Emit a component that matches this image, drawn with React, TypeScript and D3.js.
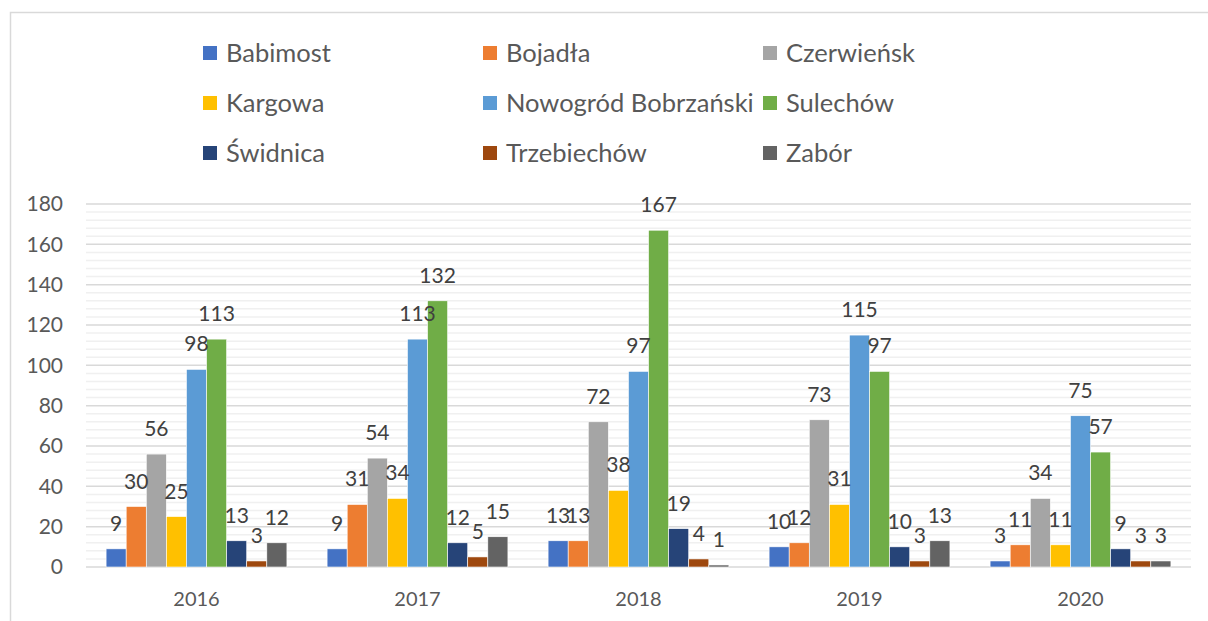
import React from "react";
import * as d3 from "d3";

const years = ["2016", "2017", "2018", "2019", "2020"];
const seriesNames = [
  "Babimost",
  "Bojadła",
  "Czerwieńsk",
  "Kargowa",
  "Nowogród Bobrzański",
  "Sulechów",
  "Świdnica",
  "Trzebiechów",
  "Zabór",
];
const babimost = [9, 9, 13, 10, 3];
const bojadla = [30, 31, 13, 12, 11];
const czerwiensk = [56, 54, 72, 73, 34];
const kargowa = [25, 34, 38, 31, 11];
const nowogrod = [98, 113, 97, 115, 75];
const sulechow = [113, 132, 167, 97, 57];
const swidnica = [13, 12, 19, 10, 9];
const trzebiechow = [3, 5, 4, 3, 3];
const zabor = [12, 15, 1, 13, 3];
const seriesValues = [babimost, bojadla, czerwiensk, kargowa, nowogrod, sulechow, swidnica, trzebiechow, zabor];
const colors = ["#4472C4", "#ED7D31", "#A5A5A5", "#FFC000", "#5B9BD5", "#70AD47", "#264478", "#9E480E", "#636363"];
const yTicks = [0, 20, 40, 60, 80, 100, 120, 140, 160, 180];

const W = 1208;
const H = 621;
const plotL = 86;
const plotR = 1191;
const plotT = 204;
const plotB = 567;
const FONT = "Lato, 'Open Sans', sans-serif";

export default function App() {
  const x0 = d3.scaleBand<string>().domain(years).range([plotL, plotR]).paddingInner(0).paddingOuter(0);
  const bw = x0.bandwidth();
  const barW = bw / 11;
  const x1 = d3
    .scaleBand<string>()
    .domain(seriesNames)
    .range([barW, bw - barW]);
  const y = d3.scaleLinear().domain([0, 180]).range([plotB, plotT]);
  const minor = d3.range(0, 181, 4).filter((v) => v % 20 !== 0);

  return (
    <svg
      width={W}
      height={H}
      style={{ position: "absolute", left: 0, top: 0, background: "#fff" }}
      fontFamily={FONT}
    >
      <rect x={10.5} y={12.5} width={1220} height={640} fill="#fff" stroke="#d9d9d9" strokeWidth={1.5} />
      {/* legend */}
      {seriesNames.map((s, i) => {
        const col = i % 3;
        const row = Math.floor(i / 3);
        const lx = 203 + col * 280;
        const ly = 53 + row * 50;
        return (
          <g key={s}>
            <rect x={lx} y={ly - 7} width={14} height={14} fill={colors[i]} />
            <text x={lx + 23} y={ly} dy="0.35em" fontSize={25.5} fill="#595959">
              {s}
            </text>
          </g>
        );
      })}
      {/* minor gridlines */}
      {minor.map((v) => (
        <line key={"m" + v} x1={plotL} x2={plotR} y1={y(v)} y2={y(v)} stroke="#f0f0f0" strokeWidth={1.5} />
      ))}
      {/* major gridlines */}
      {yTicks.map((v) => (
        <line key={"g" + v} x1={plotL} x2={plotR} y1={y(v)} y2={y(v)} stroke="#d9d9d9" strokeWidth={1.5} />
      ))}
      {/* y labels */}
      {yTicks.map((v) => (
        <text key={"t" + v} x={63} y={y(v)} dy="0.35em" textAnchor="end" fontSize={21} fill="#595959">
          {v}
        </text>
      ))}
      {/* bars */}
      {years.map((yr, yi) => (
        <g key={yr} transform={`translate(${x0(yr)},0)`}>
          {seriesNames.map((s, si) => {
            const v = seriesValues[si][yi];
            const bx = x1(s)!;
            return (
              <rect
                key={s}
                x={bx}
                y={y(v)}
                width={x1.bandwidth()}
                height={plotB - y(v)}
                fill={colors[si]}
                stroke="#ffffff"
                strokeWidth={0.6}
              />
            );
          })}
        </g>
      ))}
      {/* value labels */}
      {years.map((yr, yi) => (
        <g key={"l" + yr} transform={`translate(${x0(yr)},0)`}>
          {seriesNames.map((s, si) => {
            const v = seriesValues[si][yi];
            return (
              <text
                key={s}
                x={x1(s)! + x1.bandwidth() / 2}
                y={y(v) - 18}
                textAnchor="middle"
                fontSize={21}
                fill="#404040"
              >
                {v}
              </text>
            );
          })}
        </g>
      ))}
      {/* category labels */}
      {years.map((yr) => (
        <text key={"c" + yr} x={x0(yr)! + bw / 2} y={599} dy="0.35em" textAnchor="middle" fontSize={20} fill="#595959">
          {yr}
        </text>
      ))}
    </svg>
  );
}
